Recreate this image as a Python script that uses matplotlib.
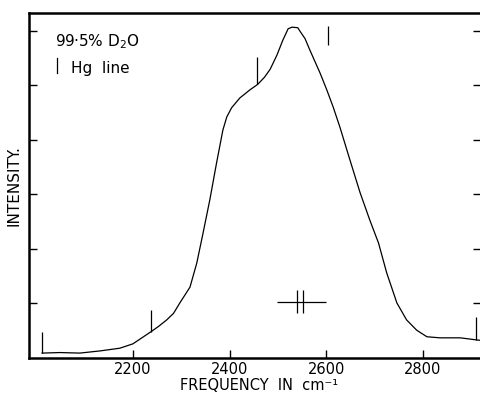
import matplotlib
matplotlib.use("Agg")
import matplotlib.pyplot as plt

# Raman band of heavy water, traced intensity vs frequency
freq = [2012, 2049, 2090, 2132, 2173, 2200, 2237, 2253, 2270, 2284, 2297,
        2318, 2332, 2345, 2359, 2373, 2386, 2394, 2404, 2421, 2442, 2458,
        2472, 2484, 2498, 2510, 2521, 2529, 2541, 2546, 2556, 2566, 2587,
        2601, 2614, 2628, 2649, 2670, 2690, 2708, 2725, 2746, 2766, 2787,
        2808, 2835, 2855, 2877, 2895, 2912, 2925]
intensity = [0.09, 0.10, 0.09, 0.13, 0.18, 0.26, 0.48, 0.58, 0.70, 0.82, 1.01,
             1.30, 1.74, 2.29, 2.90, 3.58, 4.18, 4.42, 4.59, 4.77, 4.92, 5.02,
             5.15, 5.30, 5.56, 5.83, 6.04, 6.07, 6.06, 5.99, 5.86, 5.65, 5.23,
             4.92, 4.61, 4.24, 3.63, 3.03, 2.53, 2.11, 1.56, 1.01, 0.70, 0.51,
             0.39, 0.37, 0.37, 0.37, 0.35, 0.33, 0.32]

# mercury calibration lines
hg_freq = [2012, 2237, 2457, 2603, 2910]
hg_low = [0.09, 0.48, 5.02, 5.74, 0.33]
hg_high = [0.48, 0.88, 5.52, 6.09, 0.75]

# spectral slit width marker
slit_span = [2498, 2599]
slit_edges = [2539, 2552]
slit_level = 1.03

xticks = [2200, 2400, 2600, 2800]
yticks = [1, 2, 3, 4, 5, 6]

fig = plt.figure(figsize=(4.81, 3.96), dpi=100)
ax = fig.add_axes([29 / 481, 38 / 396, 452 / 481, 345 / 396])

ax.plot(freq, intensity, color="black", lw=0.9)
ax.vlines(hg_freq, hg_low, hg_high, color="black", lw=0.9)

ax.hlines(slit_level, slit_span[0], slit_span[1], color="black", lw=0.9)
ax.vlines(slit_edges, slit_level - 0.21, slit_level + 0.21, color="black", lw=0.9)

ax.set_xlim(1985, 2920)
ax.set_ylim(0, 6.33)
ax.set_xticks(xticks)
ax.set_yticks(yticks)
ax.set_yticklabels([])
ax.tick_params(axis="x", direction="in", length=6, width=1, labelsize=10.5, pad=3)
ax.tick_params(axis="y", direction="in", length=6, width=1, right=True)

for side in ["left", "bottom", "top"]:
    ax.spines[side].set_linewidth(1.8)
ax.spines["right"].set_visible(False)

# axis titles placed just under the tick labels / beside the left spine
fig.text(0.538, 3 / 396, "FREQUENCY  IN  cm\u207b\u00b9", fontsize=10.5,
         ha="center", va="bottom")
ax.set_ylabel("INTENSITY.", fontsize=11, labelpad=2)

ax.text(0.058, 0.916, "99·5% D$_2$O", transform=ax.transAxes, fontsize=11,
        va="center", ha="left")
ax.plot([0.062, 0.062], [0.826, 0.87], transform=ax.transAxes, color="black", lw=0.9)
ax.text(0.093, 0.84, "Hg  line", transform=ax.transAxes, fontsize=11,
        va="center", ha="left")

fig.savefig("out.png", dpi=100)
